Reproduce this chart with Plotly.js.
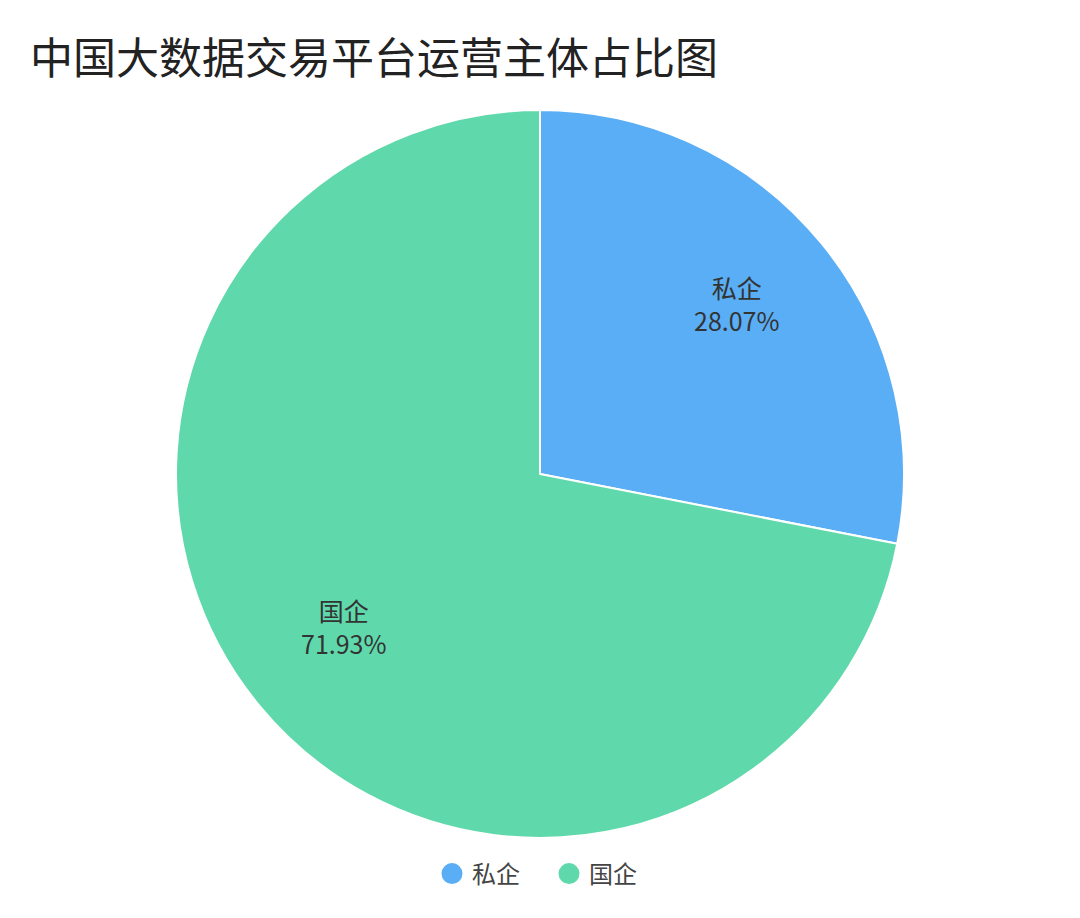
<!DOCTYPE html>
<html>
<head>
<meta charset="utf-8">
<script src="https://cdn.plot.ly/plotly-3.0.1.min.js"></script>
<style>
  html, body { margin: 0; padding: 0; background: #fff; }
  #chart { width: 1080px; height: 918px; }
</style>
</head>
<body>
<div id="chart"></div>
<script>
// slice names and shares (percent)
const categories = ['私企', '国企'];
const shares = [28.07, 71.93];
const sliceColors = ['#5aaef5', '#5fd9ab'];

const W = 1080, H = 918;
const cx = 540, cy = 474, r = 364;
const labelRadius = 0.7; // labels sit at 70% of the radius, on the slice middle

// pie itself, legend is drawn by dummy scatter traces to get round markers
const pieTrace = {
    type: 'pie',
    labels: categories,
    values: shares,
    sort: false,
    direction: 'clockwise',
    rotation: 0,
    marker: { colors: sliceColors, line: { color: '#ffffff', width: 2 } },
    textinfo: 'none',
    hoverinfo: 'none',
    showlegend: false,
    domain: {
        x: [(cx - r) / W, (cx + r) / W],
        y: [(H - cy - r) / H, (H - cy + r) / H]
    }
};

const legendTraces = categories.map((name, i) => ({
    type: 'scatter',
    mode: 'markers',
    x: [null],
    y: [null],
    name: name,
    marker: { color: sliceColors[i], size: 16, symbol: 'circle', line: { color: sliceColors[i], width: 5 } },
    showlegend: true,
    hoverinfo: 'none'
}));

// slice labels: placed on the middle angle of each slice (clockwise from 12 o'clock)
const total = shares.reduce((a, b) => a + b, 0);
let cum = 0;
const labelNotes = categories.map((name, i) => {
    const mid = (cum + shares[i] / 2) / total * 2 * Math.PI;
    cum += shares[i];
    const px = cx + labelRadius * r * Math.sin(mid);
    const py = cy - labelRadius * r * Math.cos(mid);
    return {
        xref: 'paper', yref: 'paper',
        x: px / W, y: 1 - py / H,
        xanchor: 'center', yanchor: 'middle',
        yshift: 9,
        showarrow: false,
        align: 'center',
        text: name + '<br>' + shares[i].toFixed(2) + '%',
        font: { family: 'Noto Sans CJK SC', size: 25, color: '#333333' }
    };
});

const layout = {
    width: W,
    height: H,
    margin: { l: 0, r: 0, t: 0, b: 0 },
    paper_bgcolor: '#ffffff',
    plot_bgcolor: '#ffffff',
    font: { family: 'Noto Sans CJK SC', color: '#333333' },
    title: {
        text: '中国大数据交易平台运营主体占比图',
        x: 30 / W,
        xanchor: 'left',
        y: 1 - 59 / H,
        yanchor: 'middle',
        font: { family: 'Noto Sans CJK SC', size: 43, color: '#222222' }
    },
    xaxis: { visible: false, domain: [0, 0.01] },
    yaxis: { visible: false, domain: [0, 0.01] },
    annotations: labelNotes,
    showlegend: true,
    legend: {
        orientation: 'h',
        x: 0.5 + 9 / W,
        xanchor: 'center',
        y: (H - 874) / H,
        yanchor: 'middle',
        font: { family: 'Noto Sans CJK SC', size: 24, color: '#444444' },
        itemwidth: 30,
        entrywidth: 72,
        traceorder: 'normal'
    }
};

Plotly.newPlot('chart', [pieTrace, ...legendTraces], layout, { displayModeBar: false, staticPlot: true });
</script>
</body>
</html>
